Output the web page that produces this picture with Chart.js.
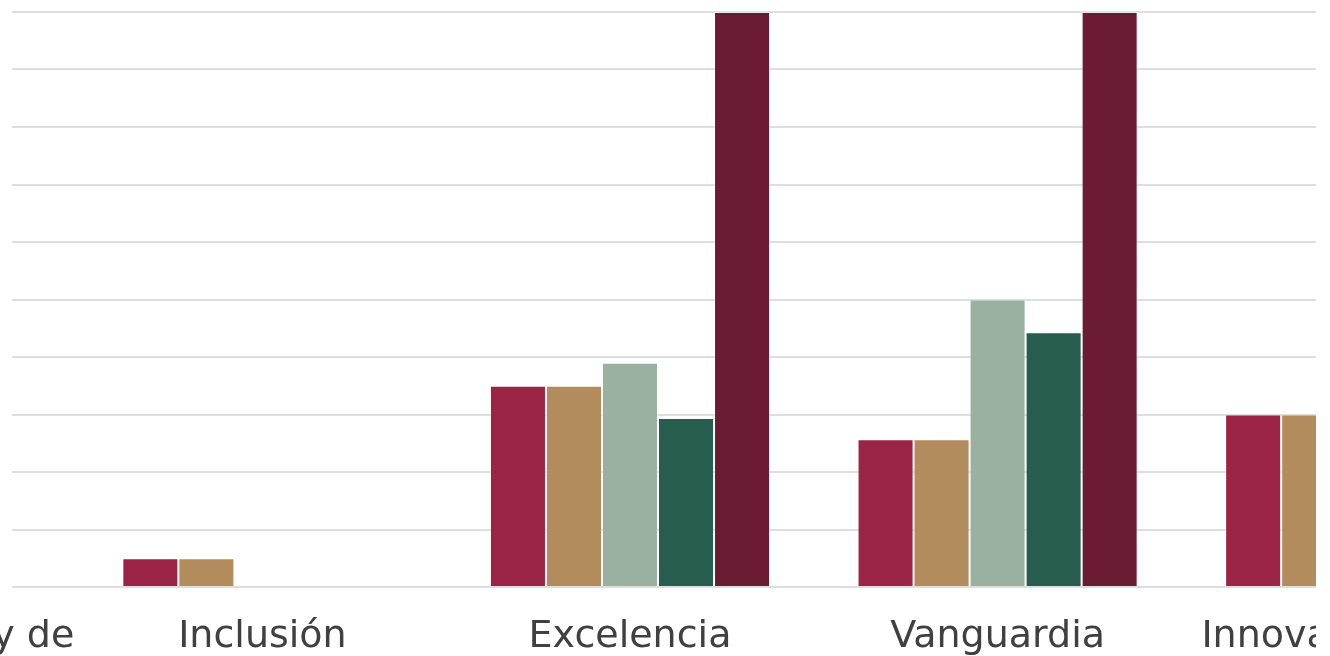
<!DOCTYPE html>
<html>
<head>
<meta charset="utf-8">
<script src="https://cdn.jsdelivr.net/npm/chart.js@4.4.1/dist/chart.umd.min.js"></script>
<style>
    html, body { margin: 0; padding: 0; background: #fff; }
    #frame { position: absolute; left: 0; top: 0; width: 1316px; height: 656px; overflow: hidden; }
    #valuesChart { position: absolute; left: -289px; top: 0; }
    #edge { position: absolute; left: 0; top: 0; width: 12px; height: 596px; background: #fff; }
</style>
</head>
<body>
<div id="frame">
    <canvas id="valuesChart" width="1838" height="656"></canvas>
    <div id="edge"></div>
</div>
<script>
// categories (first and last are cut off by the frame)
const categories = ['Transparencia y de', 'Inclusión', 'Excelencia', 'Vanguardia', 'Innovación social'];

// series values, % (hidden bars read as 0)
const serie1 = [0, 5, 35, 25.7, 30];
const serie2 = [0, 5, 35, 25.7, 30];
const serie3 = [0, 0, 39, 50, 0];
const serie4 = [0, 0, 29.4, 44.3, 0];
const serie5 = [0, 0, 100, 100, 0];

const colors = ['#9B2346', '#B28C5C', '#9AB1A1', '#275D4E', '#6A1C34'];

document.addEventListener("DOMContentLoaded", () => {
    const ctx = document.getElementById('valuesChart');

    new Chart(ctx, {
        type: 'bar',
        data: {
            labels: categories,
            datasets: [serie1, serie2, serie3, serie4, serie5].map((data, i) => ({
                label: 'Serie ' + (i + 1),
                data: data,
                backgroundColor: colors[i],
                borderColor: 'rgba(255,255,255,0.3)',
                borderWidth: 1,
                barPercentage: 1,
                categoryPercentage: 0.762
            }))
        },
        options: {
            responsive: false,
            animation: false,
            layout: { autoPadding: false, padding: { top: 12, left: 0, right: 0, bottom: 0 } },
            plugins: {
                legend: { display: false },
                tooltip: { enabled: false }
            },
            scales: {
                x: {
                    grid: { display: false },
                    border: { display: false },
                    ticks: {
                        color: '#404040',
                        font: { family: "'DejaVu Sans', sans-serif", size: 38 },
                        padding: 19,
                        maxRotation: 0,
                        minRotation: 0,
                        autoSkip: false
                    },
                    afterFit: (scale) => {
                        scale.height = 69;
                        scale.paddingLeft = 0;
                        scale.paddingRight = 0;
                    }
                },
                y: {
                    min: 0,
                    max: 100,
                    ticks: { display: false, stepSize: 10 },
                    border: { display: false },
                    grid: { color: '#dedede', lineWidth: 2, drawTicks: false },
                    afterFit: (scale) => {
                        scale.width = 0;
                        scale.paddingTop = 0;
                        scale.paddingBottom = 0;
                    }
                }
            }
        }
    });
});
</script>
</body>
</html>
